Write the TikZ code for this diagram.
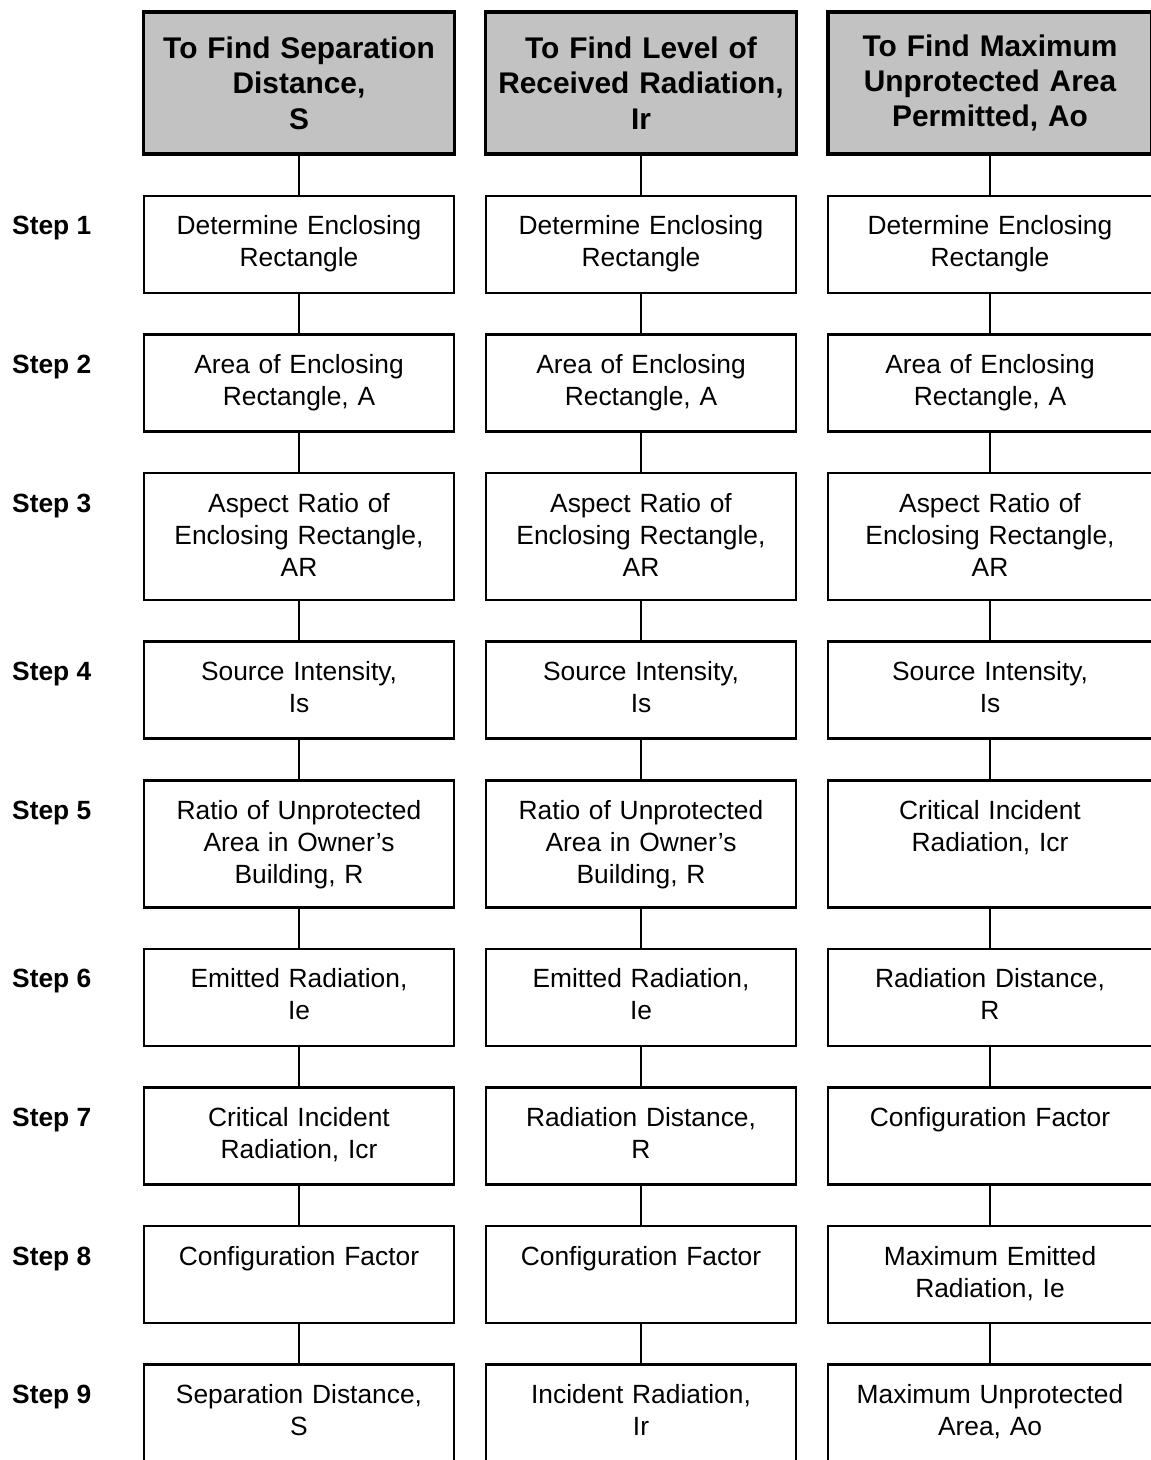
\documentclass[tikz,border=0pt]{standalone}
\usepackage{fontspec}
\setmainfont{Liberation Sans}
\usetikzlibrary{positioning}

\begin{document}
\begin{tikzpicture}[x=0.02cm, y=-0.02cm, node distance=0.78cm,
    head node/.style={draw, line width=1.8pt, fill=black!24, minimum width=6.2cm,
      minimum height=2.84cm, text width=6cm, align=center,
      font=\fontsize{17}{20.2}\selectfont\bfseries},
    box node/.style={draw, line width=1.5pt, minimum width=6.2cm, text width=5.9cm,
      align=center, inner ysep=0pt, text height=0.78cm, text depth=1.16cm,
      font=\fontsize{15}{18.2}\selectfont},
    tall/.style={text depth=1.76cm},
    wide/.style={minimum width=6.48cm},
    step label/.style={anchor=base west, font=\fontsize{15}{18}\selectfont\bfseries},
    link/.style={line width=1.1pt}]

  \useasboundingbox (0,0) rectangle (1151,1460);
  \clip (0,0) rectangle (1151,1460);

  % headers
  \node[head node] (ha) at (299,83) {To Find Separation\\Distance,\\S};
  \node[head node] (hb) at (641,83) {To Find Level of\\Received Radiation,\\Ir};
  \node[head node, wide] (hc) at (990,83) {To Find Maximum\\Unprotected Area\\Permitted, Ao};

  % separation distance
  \node[box node] (a1) [below=of ha] {Determine Enclosing\\Rectangle};
  \node[box node] (a2) [below=of a1] {Area of Enclosing\\Rectangle, A};
  \node[box node, tall] (a3) [below=of a2] {Aspect Ratio of\\Enclosing Rectangle,\\AR};
  \node[box node] (a4) [below=of a3] {Source Intensity,\\Is};
  \node[box node, tall] (a5) [below=of a4] {Ratio of Unprotected\\Area in Owner’s\\Building, R};
  \node[box node] (a6) [below=of a5] {Emitted Radiation,\\Ie};
  \node[box node] (a7) [below=of a6] {Critical Incident\\Radiation, Icr};
  \node[box node] (a8) [below=of a7] {Configuration Factor};
  \node[box node] (a9) [below=of a8] {Separation Distance,\\S};

  % received radiation
  \node[box node] (b1) [below=of hb] {Determine Enclosing\\Rectangle};
  \node[box node] (b2) [below=of b1] {Area of Enclosing\\Rectangle, A};
  \node[box node, tall] (b3) [below=of b2] {Aspect Ratio of\\Enclosing Rectangle,\\AR};
  \node[box node] (b4) [below=of b3] {Source Intensity,\\Is};
  \node[box node, tall] (b5) [below=of b4] {Ratio of Unprotected\\Area in Owner’s\\Building, R};
  \node[box node] (b6) [below=of b5] {Emitted Radiation,\\Ie};
  \node[box node] (b7) [below=of b6] {Radiation Distance,\\R};
  \node[box node] (b8) [below=of b7] {Configuration Factor};
  \node[box node] (b9) [below=of b8] {Incident Radiation,\\Ir};

  % maximum unprotected area
  \node[box node, wide] (c1) [below=of hc] {Determine Enclosing\\Rectangle};
  \node[box node, wide] (c2) [below=of c1] {Area of Enclosing\\Rectangle, A};
  \node[box node, wide, tall] (c3) [below=of c2] {Aspect Ratio of\\Enclosing Rectangle,\\AR};
  \node[box node, wide] (c4) [below=of c3] {Source Intensity,\\Is};
  \node[box node, wide, tall] (c5) [below=of c4] {Critical Incident\\Radiation, Icr};
  \node[box node, wide] (c6) [below=of c5] {Radiation Distance,\\R};
  \node[box node, wide] (c7) [below=of c6] {Configuration Factor};
  \node[box node, wide] (c8) [below=of c7] {Maximum Emitted\\Radiation, Ie};
  \node[box node, wide] (c9) [below=of c8] {Maximum Unprotected\\Area, Ao};

  % step labels
  \coordinate (lx) at (6,0);
  \foreach \i in {1,...,9}
    \node[step label] (l\i) at (lx |- a\i.base) {Step \i};

  % links
  \foreach \c in {a,b,c} {
    \draw[link] (h\c) -- (\c1);
    \foreach \i [count=\j from 2] in {1,...,8}
      \draw[link] (\c\i) -- (\c\j);
  }
\end{tikzpicture}
\end{document}
